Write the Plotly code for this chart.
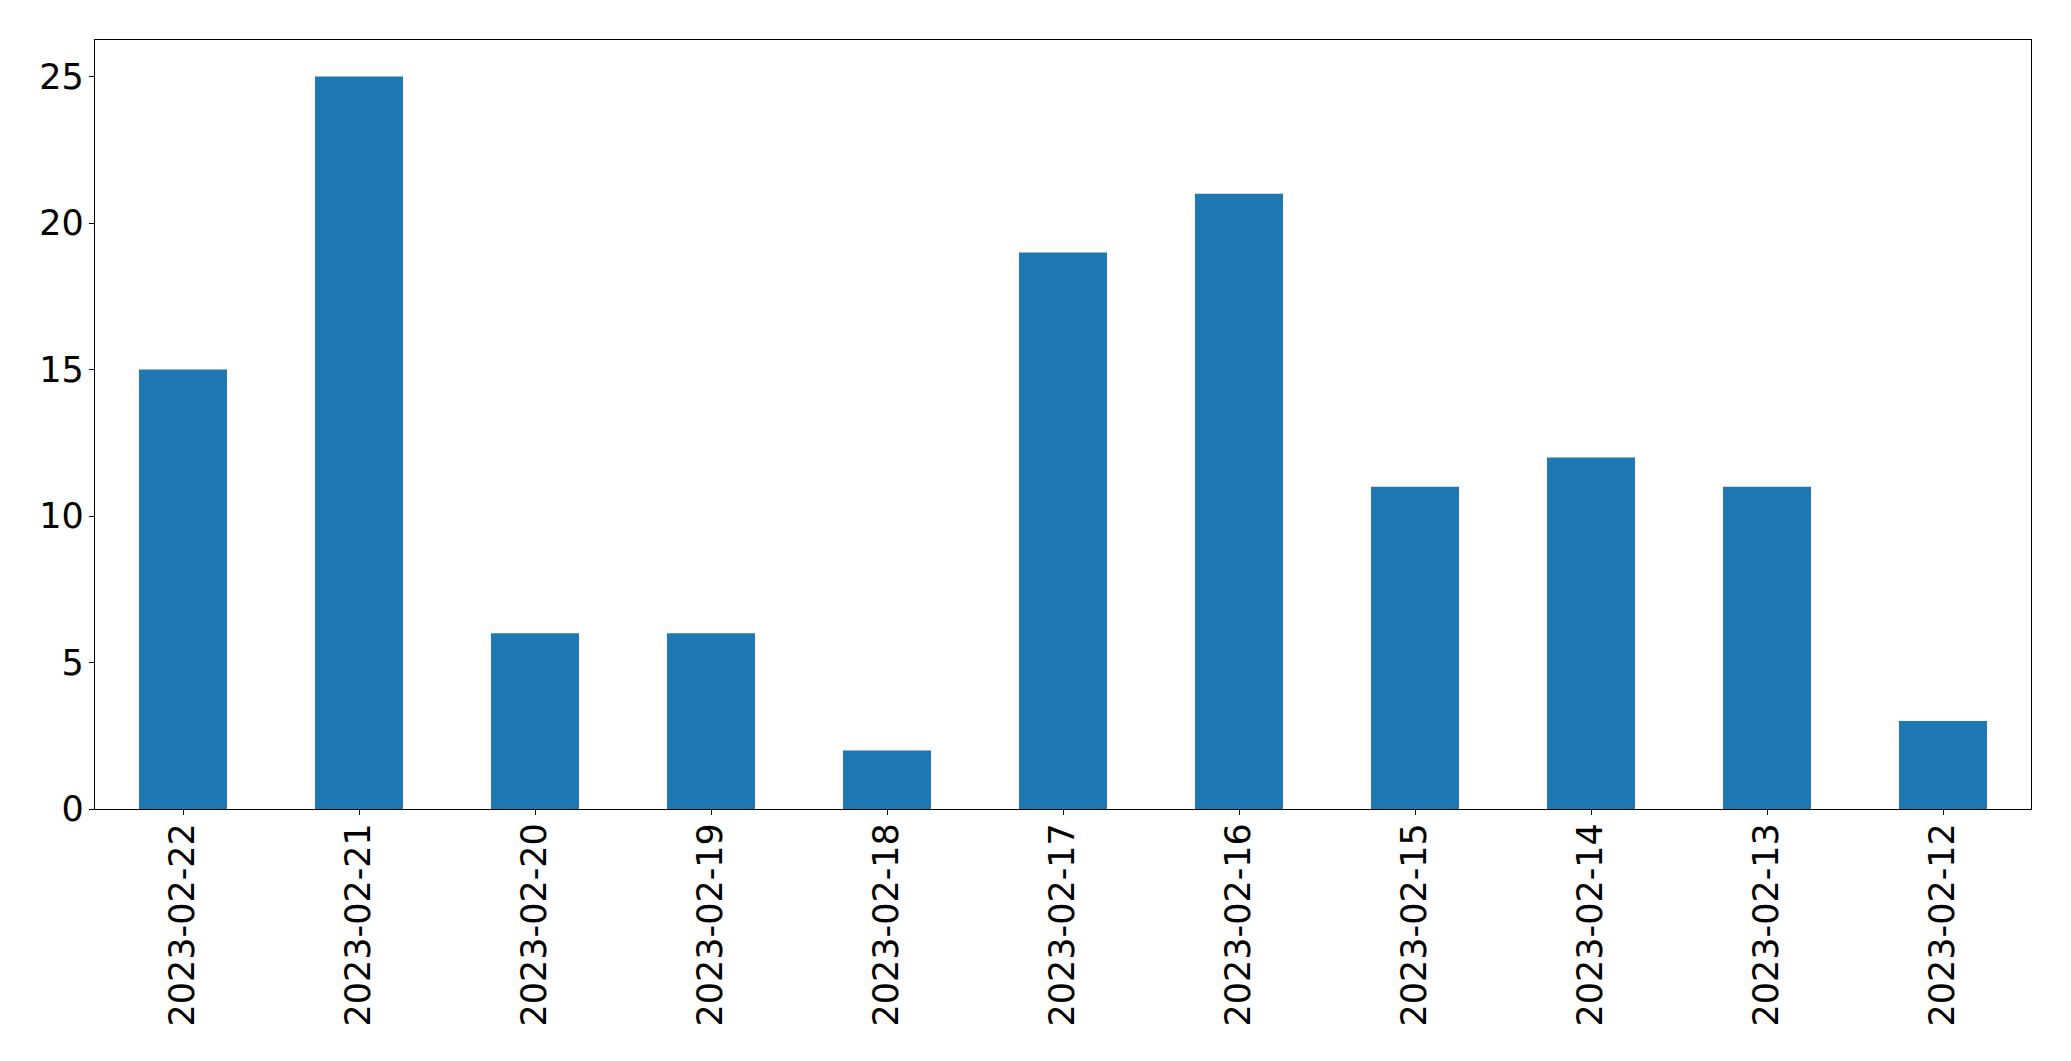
import plotly.graph_objects as go

dates = ["2023-02-22", "2023-02-21", "2023-02-20", "2023-02-19", "2023-02-18",
         "2023-02-17", "2023-02-16", "2023-02-15", "2023-02-14", "2023-02-13",
         "2023-02-12"]
counts = [15, 25, 6, 6, 2, 19, 21, 11, 12, 11, 3]

fig = go.Figure(go.Bar(x=dates, y=counts, width=0.5, marker=dict(color="#1f77b4", line=dict(width=0))))

font = dict(family="DejaVu Sans", size=35, color="black")
fig.update_layout(
    width=2071, height=1061,
    margin=dict(l=87, r=48, t=32, b=260),
    paper_bgcolor="white", plot_bgcolor="white",
    showlegend=False,
    font=font,
)
fig.update_xaxes(
    type="category", categoryorder="array", categoryarray=dates,
    range=[-0.5, 10.5], tickangle=-90,
    showline=True, linecolor="black", linewidth=1.3, mirror=True,
    ticks="outside", ticklen=5, tickcolor="black", tickwidth=1.3,
    showgrid=False, zeroline=False, tickfont=font, ticklabelstandoff=-6,
    automargin=False,
)
fig.update_yaxes(
    range=[0, 26.25], tickvals=[0, 5, 10, 15, 20, 25],
    showline=True, linecolor="black", linewidth=1.3, mirror=True,
    ticks="outside", ticklen=5, tickcolor="black", tickwidth=1.3,
    showgrid=False, zeroline=False, tickfont=font, ticklabelstandoff=-2,
    automargin=False,
)
fig.write_html("out.html")
